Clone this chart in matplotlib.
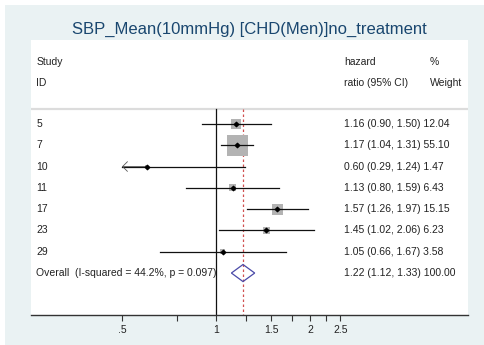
import matplotlib.pyplot as plt
from matplotlib.patches import Rectangle, Polygon
import numpy as np

plt.rcParams['font.family'] = ['Liberation Sans', 'DejaVu Sans']

# study-level hazard ratios with 95% CI and weights
study_ids = ['5', '7', '10', '11', '17', '23', '29']
hr = [1.16, 1.17, 0.60, 1.13, 1.57, 1.45, 1.05]
lo = [0.90, 1.04, 0.29, 0.80, 1.26, 1.02, 0.66]
hi = [1.50, 1.31, 1.24, 1.59, 1.97, 2.06, 1.67]
weight = [12.04, 55.10, 1.47, 6.43, 15.15, 6.23, 3.58]

# pooled estimate
overall_label = 'Overall  (I-squared = 44.2%, p = 0.097)'
overall_hr, overall_lo, overall_hi = 1.22, 1.12, 1.33

ticks = [0.5, 0.75, 1, 1.25, 1.5, 1.75, 2, 2.25, 2.5]
tick_labels = ['.5', '', '1', '', '1.5', '', '2', '', '2.5']

W, H = 484, 345
fig = plt.figure(figsize=(W / 100, H / 100), dpi=100)
fig.patch.set_facecolor('white')
bg = '#EAF2F3'
fig.add_artist(Rectangle((5 / W, 0), 1 - 5 / W, 1 - 5 / H, transform=fig.transFigure,
                         facecolor=bg, edgecolor='none', zorder=-10))

left, right, top, bottom = 31, 468, 40, 315
ax = fig.add_axes([left / W, 1 - bottom / H, (right - left) / W, (bottom - top) / H])
ax.set_facecolor('white')
ax.set_xscale('log')
ax.set_xlim(0.2556, 6.41)
ax.set_ylim(8.97, -3.94)

for s in ['top', 'left', 'right']:
    ax.spines[s].set_visible(False)
ax.spines['bottom'].set_color('#333333')
ax.spines['bottom'].set_linewidth(1.0)
ax.set_yticks([])
ax.set_xticks(ticks)
ax.set_xticklabels(tick_labels)
ax.minorticks_off()
ax.tick_params(axis='x', direction='out', length=4, width=0.8, color='#333333',
               labelsize=7.5, labelcolor='#222222', pad=3)

# header and separator
tx = ax.get_yaxis_transform()
fs = 7.5
txtc = '#222222'
ax.text(0.012, -2.9, 'Study', transform=tx, fontsize=fs, color=txtc, va='center')
ax.text(0.012, -1.93, 'ID', transform=tx, fontsize=fs, color=txtc, va='center')
ax.text(0.716, -2.9, 'hazard', transform=tx, fontsize=fs, color=txtc, va='center')
ax.text(0.716, -1.93, 'ratio (95% CI)', transform=tx, fontsize=fs, color=txtc, va='center')
ax.text(0.913, -2.9, '%', transform=tx, fontsize=fs, color=txtc, va='center')
ax.text(0.913, -1.93, 'Weight', transform=tx, fontsize=fs, color=txtc, va='center')
ax.axhline(-0.7, color='#DCDCDC', lw=1.6)

# reference lines
ax.plot([1, 1], [-0.7, 8.97], color='#111111', lw=0.9, zorder=2)
ax.plot([overall_hr, overall_hr], [-0.7, 8.97], color='#D05050', lw=0.9,
        ls=(0, (2, 2)), zorder=2)

clip_lo = ticks[0]
max_side = 21.0
for i, sid in enumerate(study_ids):
    side_px = max_side * np.sqrt(weight[i] / max(weight))
    ax.scatter([hr[i]], [i], marker='s', s=(side_px * 0.72) ** 2,
               color='#B3B3B3', edgecolors='none', zorder=3)
    if lo[i] < clip_lo:
        ax.plot([clip_lo, hi[i]], [i, i], color='#111111', lw=0.9, zorder=4)
        ax.annotate('', xy=(clip_lo, i), xytext=(clip_lo * 1.2, i),
                    arrowprops=dict(arrowstyle='->,head_length=0.35,head_width=0.35',
                                    color='#555555', lw=0.6, shrinkA=0, shrinkB=0),
                    zorder=4)
    else:
        ax.plot([lo[i], hi[i]], [i, i], color='#111111', lw=0.9, zorder=4)
    ax.scatter([hr[i]], [i], marker='D', s=5, color='black', zorder=5)
    ax.text(0.012, i, sid, transform=tx, fontsize=fs, color=txtc, va='center')
    ax.text(0.716, i, f'{hr[i]:.2f} ({lo[i]:.2f}, {hi[i]:.2f}) {weight[i]:.2f}',
            transform=tx, fontsize=fs, color=txtc, va='center')

# pooled diamond
yo = len(study_ids)
ax.add_patch(Polygon([[overall_lo, yo], [overall_hr, yo - 0.4], [overall_hi, yo],
                      [overall_hr, yo + 0.4]], closed=True, facecolor='none',
                     edgecolor='#4A4AA8', lw=0.9, zorder=5))
ax.text(0.012, yo, overall_label, transform=tx, fontsize=fs, color=txtc, va='center')
ax.text(0.716, yo, f'{overall_hr:.2f} ({overall_lo:.2f}, {overall_hi:.2f}) 100.00',
        transform=tx, fontsize=fs, color=txtc, va='center')

fig.text((left + right) / 2 / W, 1 - 29 / H, 'SBP_Mean(10mmHg) [CHD(Men)]no_treatment',
         ha='center', va='center', fontsize=12, color='#1A476F')

fig.savefig('out.png', dpi=100)
